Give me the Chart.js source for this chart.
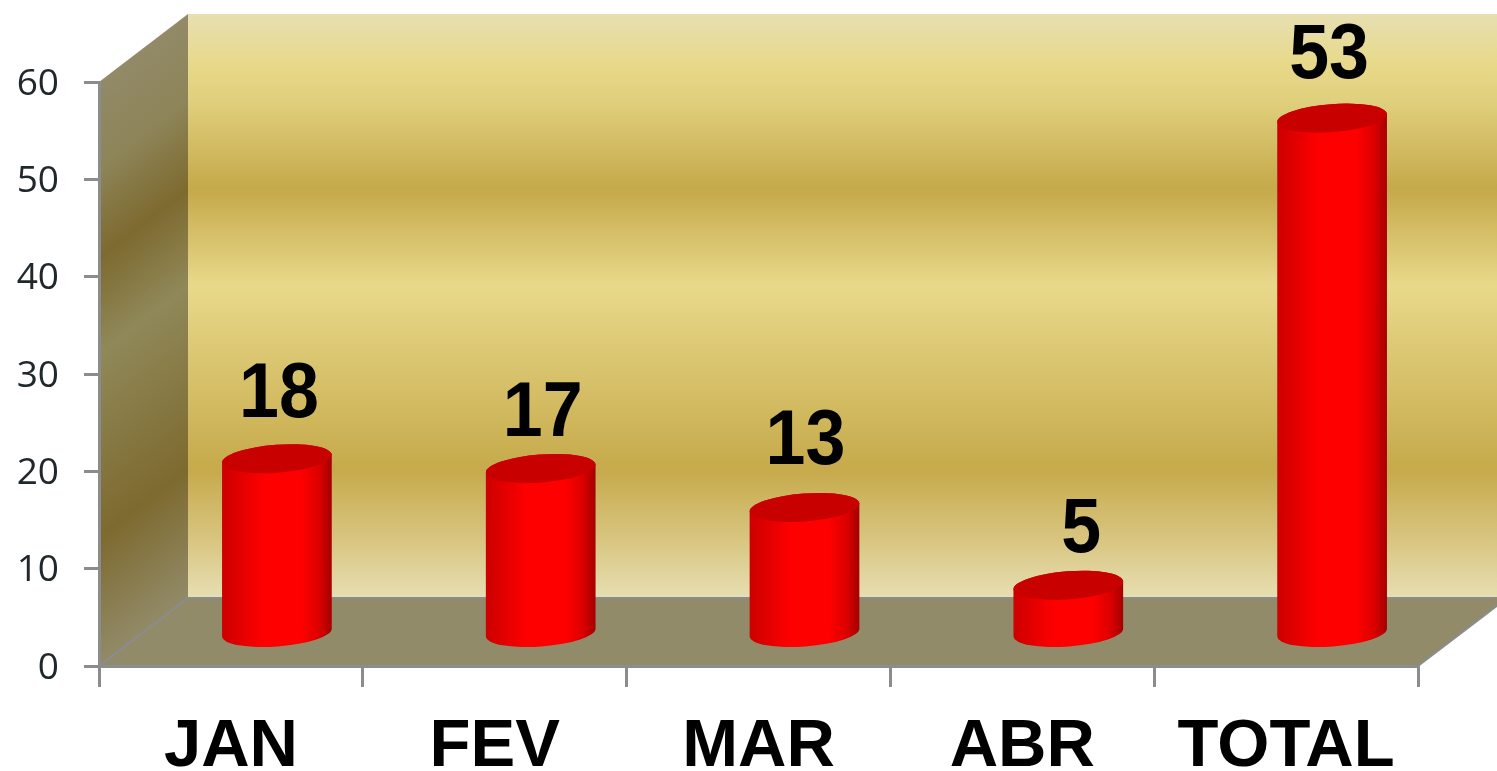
<!DOCTYPE html>
<html lang="en">
<head>
<meta charset="UTF-8">
<title>JAN FEV MAR ABR TOTAL</title>
<script src="https://cdn.jsdelivr.net/npm/chart.js/dist/chart.umd.min.js"></script>
<style>
    html, body { margin: 0; padding: 0; background: white; overflow: hidden; }
    #wrap { width: 1497px; height: 771px; position: relative; }
</style>
</head>
<body>
<div id="wrap"><canvas id="myChart"></canvas></div>
<script>
// data
const categories = ['JAN', 'FEV', 'MAR', 'ABR', 'TOTAL'];
const values = [18, 17, 13, 5, 53];
const yTicks = [0, 10, 20, 30, 40, 50, 60];

// 3d look
const depthX = 89, depthY = 68;      // how far the back wall sits from the front plane
const shiftX = 46, shiftY = -32;     // bars stand half way into the floor
const labelNudge = [[2, -42], [2, -33], [1, -43], [13, -33], [-3, -40]];
const axisGrey = '#8b8c8e';
const wallStops = [
    [0, '#e7dfb2'], [0.085, '#e8d98a'], [0.15, '#e0cf7c'], [0.3, '#c5a94a'],
    [0.465, '#e8d98a'], [0.78, '#c6aa4b'], [0.9, '#d8c580'], [1, '#e7dfb2']
];
const sideStops = [
    [0, '#928a68'], [0.15, '#8d8458'], [0.3, '#7d6a2f'], [0.465, '#908859'],
    [0.78, '#7d6a2f'], [1, '#928a68']
];

// bar drawn as a tilted cylinder
class CylinderBar extends Chart.BarElement {
    draw(ctx) {
        const { x, y, base, width } = this.getProps(['x', 'y', 'base', 'width']);
        const cx = x + shiftX, top = y + shiftY, bottom = base + shiftY;
        const rx = width / 2, ry = 14, tilt = -0.075;

        const g = ctx.createLinearGradient(cx - rx, 0, cx + rx, 0);
        g.addColorStop(0, '#cc0000');
        g.addColorStop(0.15, '#e00000');
        g.addColorStop(0.38, '#ff0000');
        g.addColorStop(0.72, '#ff0000');
        g.addColorStop(0.88, '#dc0000');
        g.addColorStop(1, '#a40000');

        ctx.save();
        ctx.fillStyle = g;
        ctx.beginPath();
        ctx.ellipse(cx, bottom, rx, ry, tilt, Math.PI, 0, true);
        ctx.ellipse(cx, top, rx, ry, tilt, 0, Math.PI, true);
        ctx.closePath();
        ctx.fill();

        ctx.fillStyle = '#c80000';
        ctx.beginPath();
        ctx.ellipse(cx, top, rx, ry, tilt, 0, Math.PI * 2);
        ctx.fill();
        ctx.restore();
    }
}
CylinderBar.id = 'cylinderBar';
CylinderBar.defaults = Chart.BarElement.defaults;

class CylinderController extends Chart.BarController {}
CylinderController.id = 'cylinder';
CylinderController.defaults = { ...Chart.BarController.defaults, dataElementType: 'cylinderBar' };

Chart.register(CylinderBar, CylinderController);

function addStops(g, stops) {
    stops.forEach(s => g.addColorStop(s[0], s[1]));
    return g;
}

// back wall, side wall and floor behind the axes
const wallsPlugin = {
    id: 'walls',
    beforeDraw(chart) {
        const { ctx, chartArea: { left, right, top, bottom } } = chart;
        const backX = left + depthX, backTop = top - depthY, backBottom = bottom - depthY;
        const wallH = backBottom - backTop;

        ctx.save();
        ctx.fillStyle = addStops(ctx.createLinearGradient(0, backTop, 0, backBottom), wallStops);
        ctx.fillRect(backX, backTop, right + depthX - backX, wallH);

        // side wall bands run along the depth direction
        const k = wallH * depthX / (depthX * depthX + depthY * depthY);
        ctx.fillStyle = addStops(ctx.createLinearGradient(backX, backTop, backX + depthY * k, backTop + depthX * k), sideStops);
        ctx.beginPath();
        ctx.moveTo(left, top);
        ctx.lineTo(backX, backTop);
        ctx.lineTo(backX, backBottom);
        ctx.lineTo(left, bottom);
        ctx.closePath();
        ctx.fill();

        ctx.fillStyle = '#928b6a';
        ctx.beginPath();
        ctx.moveTo(left, bottom);
        ctx.lineTo(backX, backBottom);
        ctx.lineTo(right + depthX, backBottom);
        ctx.lineTo(right, bottom);
        ctx.closePath();
        ctx.fill();

        ctx.strokeStyle = axisGrey;
        ctx.lineWidth = 2;
        ctx.beginPath();
        ctx.moveTo(left, bottom);
        ctx.lineTo(backX, backBottom);
        ctx.lineTo(right + depthX, backBottom);
        ctx.lineTo(right, bottom);
        ctx.stroke();
        ctx.restore();
    }
};

// numbers over the bars, a little narrower than the plain font
const valueLabels = {
    id: 'valueLabels',
    afterDatasetsDraw(chart) {
        const ctx = chart.ctx;
        const meta = chart.getDatasetMeta(0);
        ctx.save();
        ctx.font = 'bold 78px "Liberation Sans"';
        ctx.fillStyle = '#000';
        ctx.textAlign = 'center';
        ctx.textBaseline = 'alphabetic';
        meta.data.forEach((bar, i) => {
            ctx.save();
            ctx.translate(bar.x + shiftX + labelNudge[i][0], bar.y + shiftY + labelNudge[i][1]);
            ctx.scale(0.92, 1);
            ctx.fillText(values[i], 0, 0);
            ctx.restore();
        });
        ctx.restore();
    }
};

new Chart(document.getElementById('myChart').getContext('2d'), {
    type: 'cylinder',
    data: {
        labels: categories,
        datasets: [{
            data: values,
            backgroundColor: '#ff0000',
            barPercentage: 0.834,
            categoryPercentage: 0.5,
            clip: false
        }]
    },
    plugins: [wallsPlugin, valueLabels],
    options: {
        responsive: true,
        maintainAspectRatio: false,
        animation: false,
        layout: { padding: { top: 82, right: 79, left: 0, bottom: 0 } },
        plugins: { legend: { display: false }, tooltip: { enabled: false } },
        scales: {
            x: {
                offset: true,
                afterFit(scale) { scale.height = 105; },
                grid: { offset: true, drawOnChartArea: false, tickLength: 21, color: axisGrey, lineWidth: 3 },
                border: { display: true, color: axisGrey, width: 3 },
                ticks: {
                    autoSkip: false, maxRotation: 0, padding: 20, color: '#000',
                    font: { family: '"Liberation Sans"', size: 67, weight: 'bold' }
                }
            },
            y: {
                min: 0,
                max: 60,
                afterFit(scale) { scale.width = 99; },
                afterBuildTicks(scale) { scale.ticks = yTicks.map(v => ({ value: v })); },
                grid: { drawOnChartArea: false, tickLength: 15, color: axisGrey, lineWidth: 3 },
                border: { display: true, color: axisGrey, width: 3 },
                ticks: {
                    padding: 25, color: '#20282c', labelOffset: 2,
                    font: { family: '"Open Sans"', size: 37 }
                }
            }
        }
    }
});
</script>
</body>
</html>
